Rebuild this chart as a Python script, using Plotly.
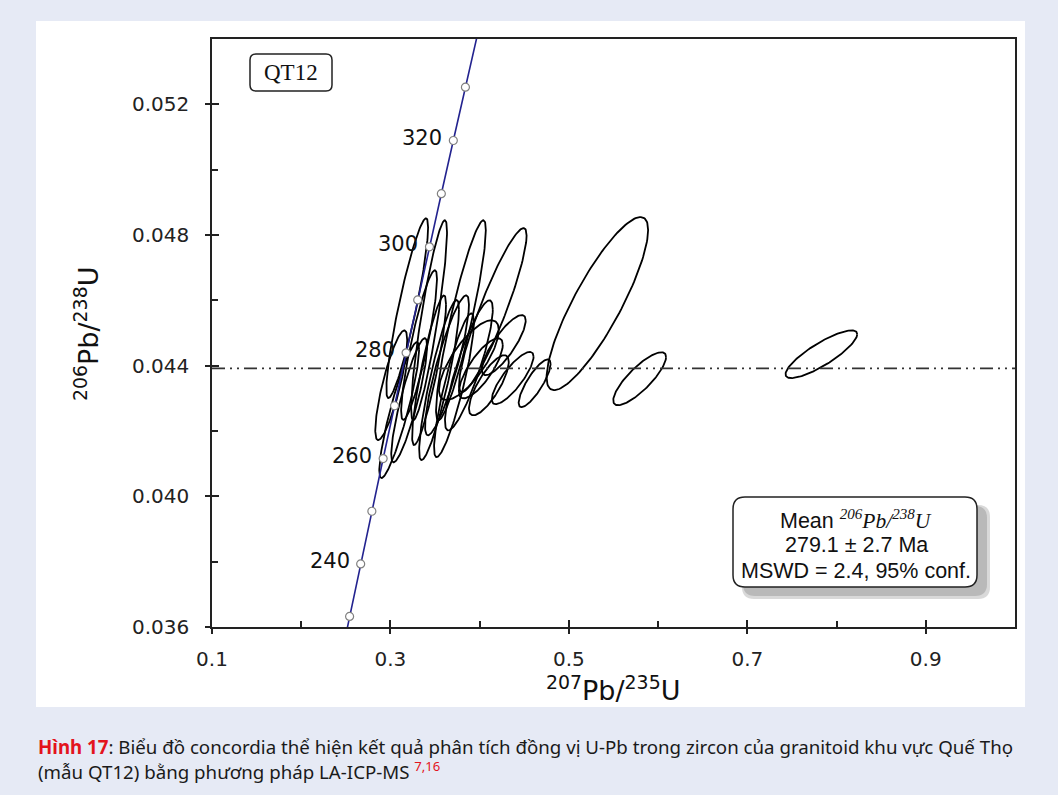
import plotly.graph_objects as go
import numpy as np

# ---------------- data ----------------
# Concordia curve points (age in Ma, 207Pb/235U, 206Pb/238U)
conc_age = [220, 230, 240, 250, 260, 270, 280, 290, 300, 310, 320, 330, 340]
conc_x = [0.24193, 0.25422, 0.26664, 0.27917, 0.29183, 0.30462, 0.31753,
          0.33057, 0.34374, 0.35704, 0.37047, 0.38403, 0.39773]
conc_y = [0.034717, 0.036323, 0.037932, 0.039543, 0.041157, 0.042773, 0.044392,
          0.046013, 0.047637, 0.049264, 0.050893, 0.052524, 0.054158]
marker_ages = [230, 240, 250, 260, 270, 280, 290, 300, 310, 320, 330]
label_ages = [240, 260, 280, 300, 320]

# Zircon analyses: 207Pb/235U, error, 206Pb/238U, error, error correlation
pb207_u235 = [0.3188, 0.3433, 0.3790, 0.4147, 0.3321, 0.3433, 0.3545, 0.3634,
              0.3712, 0.3879, 0.3210, 0.3098, 0.3009, 0.3879, 0.4013, 0.4103,
              0.4370, 0.4270, 0.4616, 0.5793, 0.5319, 0.7830]
err207 = [0.0234, 0.0201, 0.0279, 0.0379, 0.0201, 0.0190, 0.0223, 0.0246,
          0.0223, 0.0268, 0.0201, 0.0223, 0.0179, 0.0335, 0.0246, 0.0223,
          0.0234, 0.0246, 0.0179, 0.0296, 0.0569, 0.0402]
pb206_u238 = [0.04576, 0.04539, 0.04539, 0.04570, 0.04463, 0.04386, 0.04356, 0.04401,
              0.04340, 0.04401, 0.04294, 0.04264, 0.04340, 0.04417, 0.04392, 0.04340,
              0.04362, 0.04463, 0.04346, 0.04360, 0.04590, 0.04435]
err206 = [0.00275, 0.00306, 0.00306, 0.00251, 0.00229, 0.00229, 0.00245, 0.00214,
          0.00220, 0.00199, 0.00190, 0.00208, 0.00168, 0.00122, 0.00092, 0.00092,
          0.00080, 0.00092, 0.00073, 0.00081, 0.00265, 0.00073]
rho = [0.90, 0.88, 0.90, 0.91, 0.88, 0.88, 0.88, 0.87,
       0.87, 0.86, 0.87, 0.89, 0.82, 0.75, 0.78, 0.78,
       0.82, 0.82, 0.82, 0.82, 0.85, 0.84]

mean_line = 0.04392
x_ticks = [0.1, 0.3, 0.5, 0.7, 0.9]
x_ticktext = ["0.1", "0.3", "0.5", "0.7", "0.9"]
x_minor = [0.2, 0.4, 0.6, 0.8]
y_ticks = [0.036, 0.040, 0.044, 0.048, 0.052]
y_ticktext = ["0.036", "0.040", "0.044", "0.048", "0.052"]
y_minor = [0.038, 0.042, 0.046, 0.050]

# ---------------- geometry ----------------
W, H = 1058, 795
L, R, T, B = 212, 43, 39, 168
PW, PH = W - L - R, H - T - B


def PX(px):
    return (px - L) / PW


def PY(py):
    return (H - B - py) / PH


def rrect(x0, y0, x1, y1, r):
    pts = [("M", [(x0 + r, y0)]), ("L", [(x1 - r, y0)]), ("Q", [(x1, y0), (x1, y0 + r)]),
           ("L", [(x1, y1 - r)]), ("Q", [(x1, y1), (x1 - r, y1)]), ("L", [(x0 + r, y1)]),
           ("Q", [(x0, y1), (x0, y1 - r)]), ("L", [(x0, y0 + r)]), ("Q", [(x0, y0), (x0 + r, y0)])]
    s = ""
    for cmd, ps in pts:
        s += cmd + " " + " ".join(f"{PX(a):.5f},{PY(b):.5f}" for a, b in ps) + " "
    return s + "Z"


fig = go.Figure()

# ellipses
t = np.linspace(0, 2 * np.pi, 141)
ex, ey = [], []
for x0, sx, y0, sy, r in zip(pb207_u235, err207, pb206_u238, err206, rho):
    u = np.cos(t)
    v = r * np.cos(t) + np.sqrt(1 - r * r) * np.sin(t)
    ex += list(x0 + sx * u) + [None]
    ey += list(y0 + sy * v) + [None]

fig.add_trace(go.Scatter(x=ex, y=ey, mode="lines", line=dict(color="black", width=1.8),
                         hoverinfo="skip", showlegend=False))

# mean line
fig.add_trace(go.Scatter(x=[0.1, 1.0], y=[mean_line, mean_line], mode="lines",
                         line=dict(color="#333333", width=1.7, dash="13px,5px,2px,5px,2px,5px"),
                         hoverinfo="skip", showlegend=False))

# concordia
fig.add_trace(go.Scatter(x=conc_x, y=conc_y, mode="lines",
                         line=dict(color="#23238f", width=1.6), hoverinfo="skip", showlegend=False))
mx = [conc_x[conc_age.index(a)] for a in marker_ages]
my = [conc_y[conc_age.index(a)] for a in marker_ages]
fig.add_trace(go.Scatter(x=mx, y=my, mode="markers",
                         marker=dict(symbol="circle", size=8, color="white",
                                     line=dict(color="#808080", width=1.2)),
                         hoverinfo="skip", showlegend=False, cliponaxis=False))

# dummy trace for overlay axes
fig.add_trace(go.Scatter(x=[None], y=[None], xaxis="x2", yaxis="y2", showlegend=False,
                         hoverinfo="skip"))

annotations = []
for a in label_ages:
    i = conc_age.index(a)
    annotations.append(dict(x=conc_x[i], y=conc_y[i], xref="x", yref="y", text=str(a),
                            showarrow=False, xanchor="right", yanchor="middle",
                            xshift=-9, yshift=3,
                            font=dict(family="DejaVu Sans", size=21, color="#111111")))

# axis titles
annotations.append(dict(x=PX(613), y=PY(688), xref="paper", yref="paper",
                        text="<sup>207</sup>Pb/<sup>235</sup>U", showarrow=False,
                        xanchor="center", yanchor="middle",
                        font=dict(family="DejaVu Sans", size=27, color="#111111")))
annotations.append(dict(x=PX(86), y=PY(334), xref="paper", yref="paper",
                        text="<sup>206</sup>Pb/<sup>238</sup>U", showarrow=False, textangle=-90,
                        xanchor="center", yanchor="middle",
                        font=dict(family="DejaVu Sans", size=27, color="#111111")))

# QT12 label
annotations.append(dict(x=PX(291), y=PY(73), xref="paper", yref="paper", text="QT12",
                        showarrow=False, xanchor="center", yanchor="middle",
                        font=dict(family="Liberation Serif", size=23, color="#111111")))

# Mean box text
mean_lines = ["Mean <i><span style='font-family:Liberation Serif'><sup>206</sup>Pb/<sup>238</sup>U</span></i>",
              "279.1 ± 2.7 Ma", "MSWD = 2.4, 95% conf."]
for txt, yy in zip(mean_lines, [519, 545, 571]):
    annotations.append(dict(x=PX(856), y=PY(yy), xref="paper", yref="paper", text=txt,
                            showarrow=False, xanchor="center", yanchor="middle",
                            font=dict(family="Liberation Sans", size=21.5, color="#111111")))

# caption
cap1 = ("<b><span style='color:#e3141d'>Hình 17</span></b>: Biểu đồ concordia thể hiện kết quả "
        "phân tích đồng vị U-Pb trong zircon của granitoid khu vực Quế Thọ")
cap2 = "(mẫu QT12) bằng phương pháp LA-ICP-MS <sup><span style='color:#e3141d'>7,16</span></sup>"
for txt, yy in zip([cap1, cap2], [746, 770]):
    annotations.append(dict(x=PX(36), y=PY(yy), xref="paper", yref="paper", text=txt,
                            showarrow=False, xanchor="left", yanchor="middle",
                            font=dict(family="Noto Sans", size=18.7, color="#1a1a1a")))

shapes = [
    dict(type="rect", xref="paper", yref="paper", x0=PX(36), x1=PX(1025), y0=PY(707), y1=PY(21),
         fillcolor="white", line=dict(width=0), layer="below"),
    dict(type="path", xref="paper", yref="paper", path=rrect(250, 54, 332, 91, 6),
         fillcolor="white", line=dict(color="#222222", width=1.5)),
    dict(type="path", xref="paper", yref="paper", path=rrect(742, 505, 990, 599, 12),
         fillcolor="#d9d9d9", line=dict(width=0)),
    dict(type="path", xref="paper", yref="paper", path=rrect(743, 506, 987, 596, 12),
         fillcolor="#b9b9b9", line=dict(width=0)),
    dict(type="path", xref="paper", yref="paper", path=rrect(733, 497, 977, 587, 12),
         fillcolor="white", line=dict(color="#222222", width=1.5)),
]

tickfont = dict(family="DejaVu Sans", size=20, color="#222222")
fig.update_layout(
    width=W, height=H, margin=dict(l=L, r=R, t=T, b=B),
    paper_bgcolor="#e6eaf5", plot_bgcolor="white",
    annotations=annotations, shapes=shapes,
    xaxis=dict(range=[0.1, 1.0], tickvals=x_ticks, ticktext=x_ticktext, ticks="outside",
               ticklen=5, tickwidth=1.5, tickcolor="#222222", tickfont=tickfont,
               ticklabelstandoff=8,
               minor=dict(tickvals=x_minor, ticks="inside", ticklen=6, tickwidth=1.5,
                          tickcolor="#222222"),
               showline=True, mirror=True, linecolor="#222222", linewidth=1.6,
               showgrid=False, zeroline=False),
    yaxis=dict(range=[0.036, 0.054], tickvals=y_ticks, ticktext=y_ticktext, ticks="outside",
               ticklen=5, tickwidth=1.5, tickcolor="#222222", tickfont=tickfont,
               ticklabelstandoff=12,
               minor=dict(tickvals=y_minor, ticks="inside", ticklen=6, tickwidth=1.5,
                          tickcolor="#222222"),
               showline=True, mirror=True, linecolor="#222222", linewidth=1.6,
               showgrid=False, zeroline=False),
    xaxis2=dict(overlaying="x", range=[0.1, 1.0], tickvals=x_ticks, ticks="inside", ticklen=7,
                tickwidth=1.5, tickcolor="#222222", showticklabels=False, showline=False,
                showgrid=False, zeroline=False, side="bottom"),
    yaxis2=dict(overlaying="y", range=[0.036, 0.054], tickvals=y_ticks, ticks="inside", ticklen=7,
                tickwidth=1.5, tickcolor="#222222", showticklabels=False, showline=False,
                showgrid=False, zeroline=False, side="left"),
)

fig.write_html("out.html")
